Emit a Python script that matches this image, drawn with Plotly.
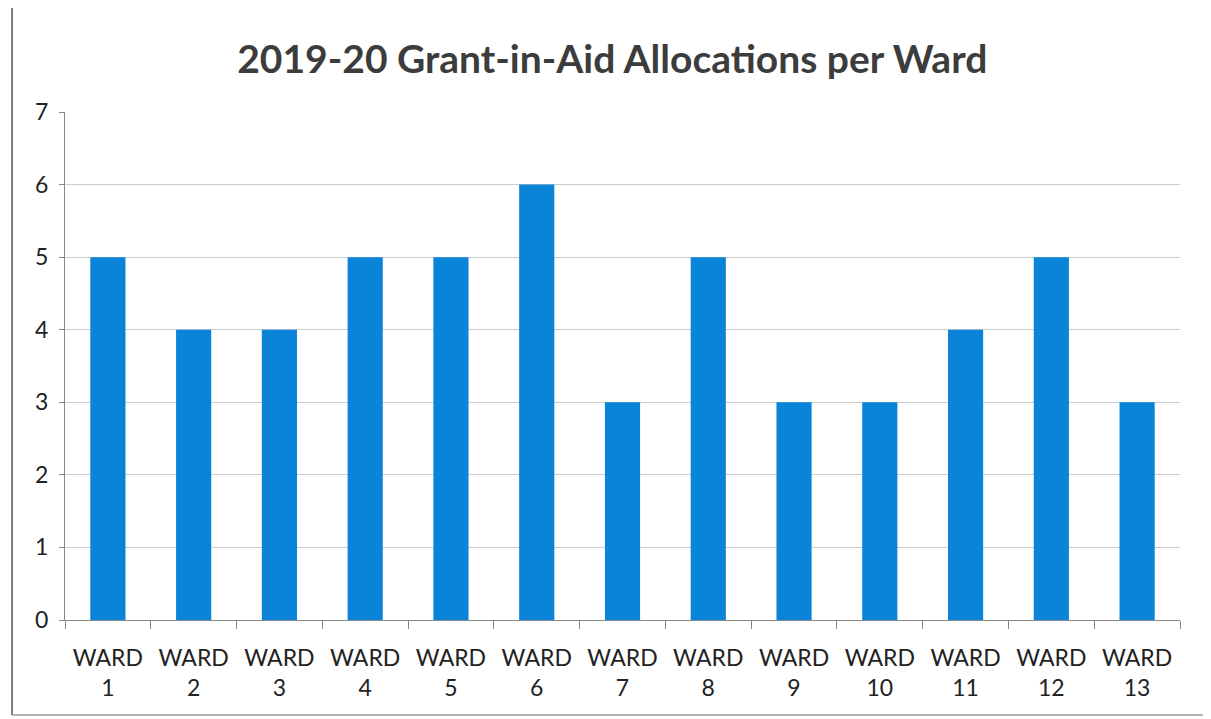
import plotly.graph_objects as go

wards = ["WARD<br>1", "WARD<br>2", "WARD<br>3", "WARD<br>4", "WARD<br>5", "WARD<br>6", "WARD<br>7",
         "WARD<br>8", "WARD<br>9", "WARD<br>10", "WARD<br>11", "WARD<br>12", "WARD<br>13"]
allocations = [5, 4, 4, 5, 5, 6, 3, 5, 3, 3, 4, 5, 3]
y_ticks = [0, 1, 2, 3, 4, 5, 6, 7]

fig = go.Figure(go.Bar(x=wards, y=allocations, marker_color="#0A84D8", marker_line_width=0))

fig.update_layout(
    width=1211, height=719,
    margin=dict(l=57, r=39, t=104, b=107, autoexpand=False),
    paper_bgcolor="white", plot_bgcolor="white",
    bargap=0.59,
    showlegend=False,
    title=dict(text="<b>2019-20 Grant-in-Aid Allocations per Ward</b>", x=0.499, xanchor="center",
               y=0.928, yanchor="middle",
               font=dict(family="Lato, Open Sans, sans-serif", size=39, color="#3c3c3c")),
    font=dict(family="Lato, Open Sans, sans-serif", size=22, color="#222222"),
)
fig.update_xaxes(
    showline=True, linecolor="#888888", linewidth=1, automargin=False,
    ticks="outside", tickson="boundaries", ticklen=8, tickcolor="#888888",
    tickfont=dict(size=23, color="#222222"), ticklabelstandoff=17,
)
fig.update_yaxes(
    range=[0, 7], tickvals=y_ticks, showgrid=True, gridcolor="#cccccc", gridwidth=1,
    showline=True, linecolor="#888888", linewidth=1, automargin=False,
    ticks="outside", ticklen=5, tickcolor="#888888", zeroline=False,
    tickfont=dict(size=23, color="#222222"), ticklabelstandoff=6,
)
# scanned frame: left and bottom edges, faint right edge
fig.add_shape(type="line", xref="paper", yref="paper", x0=-0.0475, x1=-0.0475, y0=-0.187, y1=1.22,
              line=dict(color="#555555", width=1.5))
fig.add_shape(type="line", xref="paper", yref="paper", x0=-0.0475, x1=1.0224, y0=-0.187, y1=-0.187,
              line=dict(color="#999999", width=1.5))
fig.add_shape(type="line", xref="paper", yref="paper", x0=1.0224, x1=1.0224, y0=-0.187, y1=0.45,
              line=dict(color="#bbbbbb", width=1))

fig.write_html("out.html")
